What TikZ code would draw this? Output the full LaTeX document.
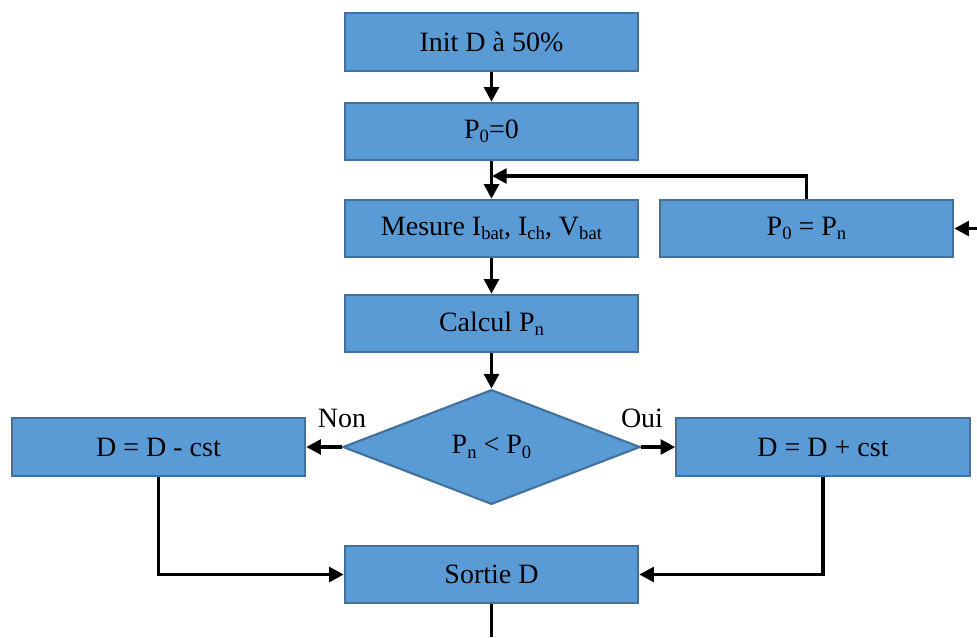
\documentclass[tikz,border=0pt]{standalone}
\usepackage{fontspec}
\setmainfont{Liberation Serif}
\usetikzlibrary{shapes.geometric,arrows.meta}
\definecolor{boxfill}{HTML}{5B9BD5}
\definecolor{boxedge}{HTML}{41719C}
\newcommand{\sbs}[1]{\raisebox{-0.15em}{\fontsize{14}{14}\selectfont #1}}
\begin{document}
\begin{tikzpicture}[x=0.75pt,y=-0.75pt,
  font=\fontsize{21}{24}\selectfont,
  stepbox/.style={draw=boxedge,fill=boxfill,line width=1.6pt,minimum width=220pt,minimum height=43pt,inner sep=0pt},
  decbox/.style={diamond,draw=boxedge,fill=boxfill,line width=1.6pt,minimum width=223pt,minimum height=86pt,inner sep=0pt},
  conn/.style={line width=2.6pt,-{Triangle[length=11pt,width=11pt]}},
  plain/.style={line width=2.6pt}]
\useasboundingbox (0,0) rectangle (977,637);
\node[stepbox] (init) at (491.5,42) {Init D à 50\%};
\node[stepbox] (p0) at (491.5,131.5) {P\sbs{0}=0};
\node[stepbox] (mes) at (491.5,228.5) {Mesure I\sbs{bat}, I\sbs{ch}, V\sbs{bat}};
\node[stepbox] (pn) at (806.5,228.5) {P\sbs{0} = P\sbs{n}};
\node[stepbox] (calc) at (491.5,323.5) {Calcul P\sbs{n}};
\node[decbox] (dec) at (491.5,447) {P\sbs{n} < P\sbs{0}};
\node[stepbox] (minus) at (158.5,447) {D = D - cst};
\node[stepbox] (plus) at (823,447) {D = D + cst};
\node[stepbox] (out) at (491.5,574.5) {Sortie D};
\node (non) at (342,418) {Non};
\node (oui) at (642,418) {Oui};
\coordinate (fb) at (492,176);
\coordinate (rin) at (977,228.5);
\coordinate (fin) at (491.5,637);
\draw[conn] (init) -- (p0);
\draw[conn] (p0) -- (mes);
\draw[conn] (pn.north) |- (fb);
\draw[conn] (rin) -- (pn.east);
\draw[conn] (mes) -- (calc);
\draw[conn] (calc) -- (dec);
\draw[conn] (dec.west) -- (minus.east);
\draw[conn] (dec.east) -- (plus.west);
\draw[conn] (minus.south) |- (out.west);
\draw[conn] (plus.south) |- (out.east);
\draw[plain] (out.south) -- (fin);
\end{tikzpicture}
\end{document}
